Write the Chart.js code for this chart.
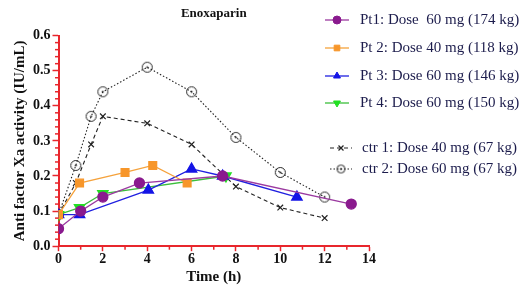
<!DOCTYPE html>
<html>
<head>
<meta charset="utf-8">
<script src="https://cdn.jsdelivr.net/npm/chart.js@4/dist/chart.umd.min.js"></script>
<style>
  html, body { margin: 0; padding: 0; background: #fff; }
  #wrap { width: 520px; height: 291px; }
</style>
</head>
<body>
<div id="wrap"><canvas id="chart" width="520" height="291"></canvas></div>
<script>
// values (x = hours, y = IU/mL)
const pt1 = [[0, 0.05], [1, 0.10], [2, 0.14], [3.65, 0.18], [7.4, 0.20], [13.2, 0.12]];
const pt2 = [[0, 0.09], [0.95, 0.18], [3.0, 0.21], [4.25, 0.23], [5.8, 0.18]];
const pt3 = [[0, 0.09], [0.95, 0.09], [4.05, 0.16], [6.0, 0.22], [7.4, 0.20], [10.75, 0.14]];
const pt4 = [[0, 0.09], [0.95, 0.11], [2.0, 0.15], [7.55, 0.20]];
const ctr1 = [[0, 0.09], [0.78, 0.18], [1.47, 0.29], [2.0, 0.37], [4.0, 0.35], [6.0, 0.29], [8.0, 0.17], [10.0, 0.11], [12.0, 0.08]];
const ctr2 = [[0, 0.09], [0.78, 0.23], [1.47, 0.37], [2.0, 0.44], [4.0, 0.51], [6.0, 0.44], [8.0, 0.31], [10.0, 0.21], [12.0, 0.14]];

const seriesLabels = [
  'Pt1: Dose  60 mg (174 kg)',
  'Pt 2: Dose 40 mg (118 kg)',
  'Pt 3: Dose 60 mg (146 kg)',
  'Pt 4: Dose 60 mg (150 kg)',
  'ctr 1: Dose 40 mg (67 kg)',
  'ctr 2: Dose 60 mg (67 kg)'
];
const xTicks = [0, 2, 4, 6, 8, 10, 12, 14];
const yTicks = [0, 0.1, 0.2, 0.3, 0.4, 0.5, 0.6];

const RED = '#e8262c';
const SERIF = '"Liberation Serif", "Times New Roman", serif';

// open circle with a dot in the middle, used for ctr 2
function dotCircle(r) {
  const s = Math.ceil(r * 2 + 3);
  const c = document.createElement('canvas');
  c.width = s; c.height = s;
  const g = c.getContext('2d');
  g.strokeStyle = '#222';
  g.lineWidth = 1;
  g.beginPath(); g.arc(s / 2, s / 2, r, 0, Math.PI * 2); g.stroke();
  g.fillStyle = '#222';
  g.beginPath(); g.arc(s / 2, s / 2, 1, 0, Math.PI * 2); g.fill();
  return c;
}
const ctr2Marker = dotCircle(5);
const ctr2Small = dotCircle(4);

const toXY = arr => arr.map(p => ({ x: p[0], y: p[1] }));

function series(label, data, line, fill, style, extra) {
  return Object.assign({
    label: label,
    data: toXY(data),
    borderColor: line,
    backgroundColor: fill,
    pointBackgroundColor: fill,
    pointBorderColor: fill,
    pointStyle: style,
    pointRadius: 5,
    borderWidth: 1.3,
    tension: 0,
    fill: false
  }, extra || {});
}

const datasets = [
  series(seriesLabels[0], pt1, '#9b3aa0', '#8a1a8e', 'circle', { pointRadius: 5 }),
  series(seriesLabels[1], pt2, '#f5a23c', '#f7962a', 'rect', { pointRadius: 5.5 }),
  series(seriesLabels[2], pt3, '#2020e0', '#1414e6', 'triangle', { pointRadius: 6 }),
  series(seriesLabels[3], pt4, '#3cbf3c', '#22e022', 'triangle', { pointRadius: 6, pointRotation: 180 }),
  series(seriesLabels[4], ctr1, '#222', '#222', 'crossRot', { borderDash: [4, 3], pointRadius: 4, pointBorderWidth: 1.2, borderWidth: 1.1 }),
  series(seriesLabels[5], ctr2, '#222', '#222', ctr2Marker, { borderDash: [1.5, 2], borderWidth: 1.1 })
];
// draw order: controls under patients
datasets[4].order = 5; datasets[5].order = 6;

// minor ticks, placed through the scales
const minorTicks = {
  id: 'minorTicks',
  afterDraw(chart) {
    const ctx = chart.ctx;
    const xs = chart.scales.x, ys = chart.scales.y;
    ctx.save();
    ctx.strokeStyle = RED;
    ctx.lineWidth = 1.5;
    for (let v = 1; v < 14; v += 2) {
      const px = xs.getPixelForValue(v);
      ctx.beginPath(); ctx.moveTo(px, ys.bottom); ctx.lineTo(px, ys.bottom + 3.5); ctx.stroke();
    }
    for (let i = 1; i < 30; i++) {
      if (i % 5 === 0) continue;
      const py = ys.getPixelForValue(i * 0.02);
      ctx.beginPath(); ctx.moveTo(xs.left, py); ctx.lineTo(xs.left - 3.5, py); ctx.stroke();
    }
    ctx.restore();
  }
};

// legend on the right: sample line + marker, then label
const sideLegend = {
  id: 'sideLegend',
  afterDraw(chart) {
    const ctx = chart.ctx;
    const rows = [20, 48, 76, 103, 148, 169];
    ctx.save();
    ctx.font = '15px ' + SERIF;
    ctx.textBaseline = 'middle';
    chart.data.datasets.forEach((ds, i) => {
      const y = rows[i];
      const x0 = i < 4 ? 325 : 330, x1 = i < 4 ? 349 : 352;
      ctx.strokeStyle = ds.borderColor;
      ctx.lineWidth = ds.borderWidth;
      ctx.setLineDash(ds.borderDash || []);
      ctx.beginPath(); ctx.moveTo(x0, y); ctx.lineTo(x1, y); ctx.stroke();
      ctx.setLineDash([]);
      ctx.fillStyle = ds.pointBackgroundColor;
      ctx.strokeStyle = ds.pointBorderColor;
      ctx.lineWidth = ds.pointBorderWidth || 1;
      Chart.helpers.drawPoint(ctx, {
        pointStyle: i === 5 ? ctr2Small : ds.pointStyle,
        rotation: ds.pointRotation || 0,
        borderWidth: ds.pointBorderWidth || 1,
        radius: i === 4 ? 3.5 : 4
      }, (x0 + x1) / 2, y);
      ctx.fillStyle = '#1c1c4c';
      ctx.fillText(ds.label, i < 4 ? 360 : 362, y);
    });
    ctx.restore();
  }
};

new Chart(document.getElementById('chart'), {
  type: 'line',
  data: { datasets: datasets },
  plugins: [minorTicks, sideLegend],
  options: {
    responsive: false,
    animation: false,
    layout: { padding: { left: 7, right: 151, top: 6, bottom: 5 } },
    scales: {
      x: {
        type: 'linear',
        min: 0, max: 14,
        afterBuildTicks: s => { s.ticks = xTicks.map(v => ({ value: v })); },
        border: { color: RED, width: 2 },
        grid: { drawOnChartArea: false, drawTicks: true, tickColor: RED, tickLength: 5, tickWidth: 1.5 },
        ticks: { color: '#111', font: { family: SERIF, size: 14, weight: 'bold' }, padding: 0, maxRotation: 0 },
        title: { display: true, text: 'Time (h)', color: '#111', font: { family: SERIF, size: 15, weight: 'bold' }, padding: { top: 0, bottom: 0 } }
      },
      y: {
        min: 0, max: 0.6,
        afterBuildTicks: s => { s.ticks = yTicks.map(v => ({ value: v })); },
        border: { color: RED, width: 2 },
        grid: { drawOnChartArea: false, drawTicks: true, tickColor: RED, tickLength: 6, tickWidth: 1.5 },
        ticks: { color: '#111', font: { family: SERIF, size: 14, weight: 'bold' }, padding: 2, callback: v => v.toFixed(1) },
        title: { display: true, text: 'Anti factor Xa activity (IU/mL)', color: '#111', font: { family: SERIF, size: 15, weight: 'bold' }, padding: { bottom: 2 } }
      }
    },
    plugins: {
      legend: { display: false },
      tooltip: { enabled: false },
      title: {
        display: true, fullSize: false,
        text: 'Enoxaparin', color: '#111',
        font: { family: SERIF, size: 13, weight: 'bold' },
        padding: { top: 0, bottom: 14 }
      }
    }
  }
});
</script>
</body>
</html>
